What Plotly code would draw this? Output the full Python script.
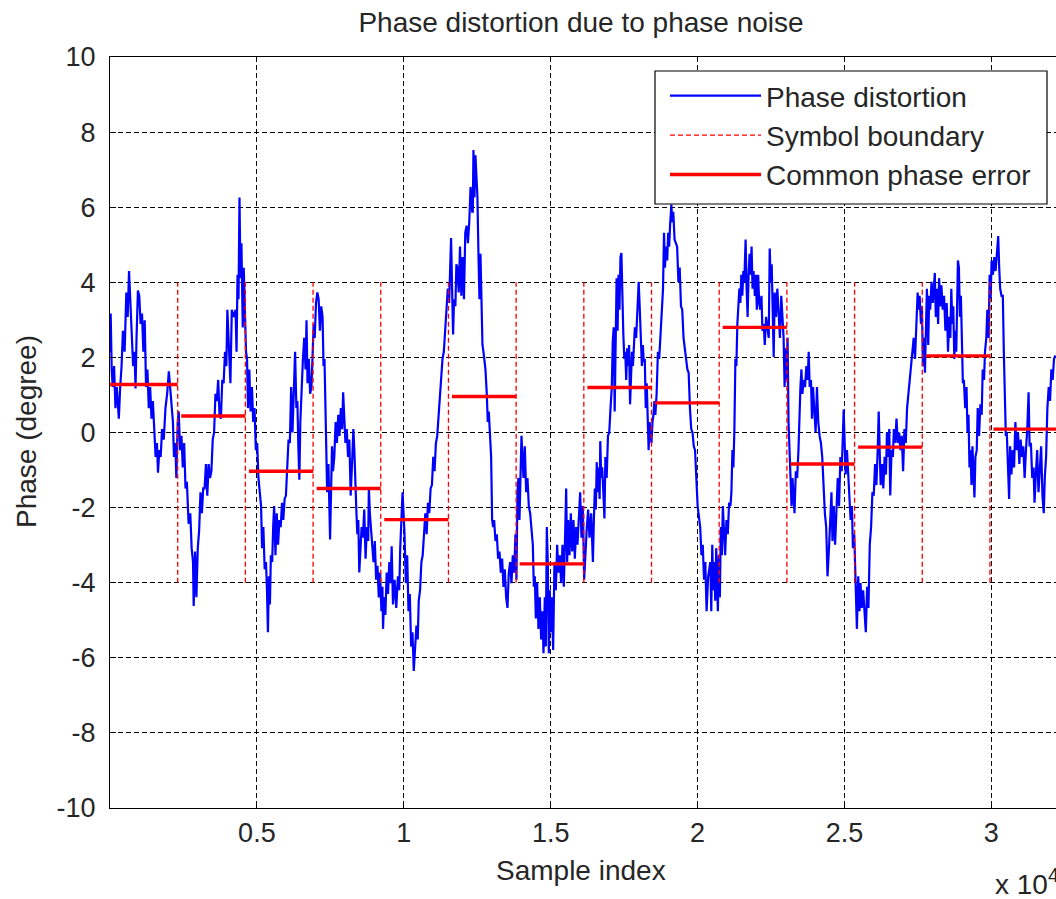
import plotly.graph_objects as go

# ---------------- data ----------------
SYMBOL_LEN = 2304          # samples per OFDM symbol
N_SYMBOLS = 14
cpe_deg = [1.28, 0.44, -1.03, -1.49, -2.32, 0.96, -3.50, 1.20, 0.79, 2.80, -0.84, -0.39, 2.04, 0.09]
boundary_span = [-4, 4]
x_tick_vals = [5000, 10000, 15000, 20000, 25000, 30000]
x_tick_text = ["0.5", "1", "1.5", "2", "2.5", "3"]
y_tick_vals = [-10, -8, -6, -4, -2, 0, 2, 4, 6, 8, 10]
y_tick_text = ["-10", "-8", "-6", "-4", "-2", "0", "2", "4", "6", "8", "10"]

# phase distortion trace, (sample index, degrees)
phase_part1 = [(0,2.15),(23,3.17),(58,1.68),(93,1.21),(139,1.77),(185,0.65),(232,1.21),(301,0.37),(347,1.21),(394,1.77),(440,2.71),(498,2.15),(556,3.73),(602,3.08),(648,4.30),(695,3.36),(741,2.52),(787,1.77),(834,2.15),(869,1.17),(903,2.52),(950,3.78),(996,3.64),(1042,2.89),(1089,3.17),(1135,2.15),(1181,2.99),(1227,1.21),(1274,1.68),(1320,0.65),(1366,1.21),(1413,0.37),(1459,0.84),(1505,0.00),(1552,-0.65),(1598,-0.28),(1633,-1.07),(1679,-0.47),(1725,-0.65),(1772,0.09),(1830,-0.19),(1888,0.65),(1945,1.03),(2003,1.63),(2050,1.21),(2096,0.84),(2142,0.28),(2177,-0.65),(2223,-0.28),(2258,-1.21),(2304,0.28),(2339,0.56),(2385,-0.47),(2432,-0.09),(2478,-0.93),(2524,-0.28),(2571,-1.49),(2617,-1.31),(2675,-2.43),(2733,-2.15),(2779,-3.08),(2826,-3.45),(2849,-4.62),(2895,-3.17),(2941,-4.39),(2988,-3.08),(3034,-2.61),(3080,-1.59),(3127,-2.15),(3173,-1.49),(3219,-1.49),(3266,-0.84),(3312,-1.68),(3358,-0.84),(3405,-1.21),(3451,-1.03),(3497,-0.19),(3543,0.00),(3590,1.03),(3636,0.84),(3682,1.40),(3729,0.47),(3775,0.37),(3821,1.40),(3868,1.31),(3914,2.15),(3960,1.77),(3995,3.27),(4053,2.15),(4099,1.31),(4146,3.27),(4203,3.08)]
phase_part2 = [(4274,3.27),(4307,2.15),(4341,4.20),(4374,3.55),(4408,6.26),(4441,4.11),(4474,5.04),(4519,2.80),(4552,4.39),(4586,3.27),(4630,2.15),(4664,1.96),(4697,0.65),(4742,1.68),(4786,0.56),(4831,1.21),(4875,0.28),(4920,0.65),(4964,-0.47),(5009,-0.28),(5053,-1.21),(5098,-1.59),(5142,-1.96),(5176,-3.08),(5220,-2.52),(5265,-3.64),(5309,-3.45),(5343,-4.20),(5376,-5.32),(5409,-3.83),(5443,-4.58),(5476,-3.27),(5521,-3.45),(5554,-2.52),(5587,-1.96),(5632,-3.27),(5676,-2.15),(5721,-2.99),(5766,-2.33),(5810,-2.52),(5855,-1.87),(5899,-2.33),(5944,-1.77),(5988,-1.68),(6033,-1.03),(6077,-0.19),(6122,-0.28),(6166,1.21),(6211,0.00),(6255,1.03),(6300,2.15),(6344,0.65),(6378,0.84),(6411,-0.37),(6445,-1.26),(6478,0.28),(6522,1.21),(6567,1.96),(6611,2.52),(6656,1.68),(6689,2.99),(6723,1.31),(6767,1.96),(6812,1.03),(6856,1.21),(6901,2.15),(6934,2.89),(6968,2.52),(7012,3.45),(7057,3.73),(7101,3.55),(7146,2.71),(7190,3.36),(7235,3.08),(7268,1.77),(7301,1.96),(7346,0.28),(7391,-1.59),(7435,-0.84),(7469,-1.96),(7491,-2.85),(7524,-1.59),(7557,-0.37),(7591,-1.03),(7635,-0.65),(7680,0.28),(7724,-0.28),(7769,0.47),(7813,-0.09),(7858,0.65),(7902,0.09),(7936,1.07),(7969,0.28),(8014,-0.28),(8058,0.09),(8103,-0.65),(8147,-0.19),(8192,-1.68),(8248,-0.65)]
phase_part3 = [(8283,0.09),(8317,-0.47),(8351,-1.68),(8384,-2.05),(8418,-2.71),(8452,-2.33),(8485,-3.73),(8519,-3.27),(8564,-2.52),(8609,-2.80),(8654,-2.05),(8699,-3.36),(8744,-2.52),(8789,-2.89),(8811,-1.45),(8845,-2.15),(8879,-2.52),(8924,-3.08),(8969,-3.45),(9014,-2.89),(9059,-3.92),(9104,-3.55),(9149,-4.39),(9194,-3.73),(9238,-4.76),(9272,-4.11),(9295,-5.23),(9328,-4.39),(9373,-4.86),(9418,-3.73),(9463,-4.30),(9508,-3.45),(9553,-4.01),(9587,-3.03),(9632,-4.58),(9688,-3.92),(9744,-4.67),(9800,-3.83),(9845,-4.20),(9879,-3.08),(9924,-2.33),(9958,-1.59),(9992,-2.15),(10025,-2.71),(10070,-4.01),(10115,-3.27),(10160,-4.76),(10205,-4.30),(10250,-5.70),(10295,-5.32),(10340,-6.35),(10385,-5.70),(10430,-5.14),(10475,-5.51),(10509,-4.48),(10554,-4.20),(10599,-3.45),(10643,-3.27),(10688,-2.80),(10733,-2.15),(10778,-2.71),(10823,-1.87),(10868,-2.15),(10913,-1.49),(10958,-1.40),(11003,-0.65),(11048,-1.03),(11093,-0.28),(11138,-0.09),(11183,0.47),(11228,0.93),(11273,1.59),(11318,1.96),(11363,2.15),(11408,2.71),(11453,2.99),(11498,3.83),(11543,3.45),(11576,4.20),(11610,5.18),(11644,3.83),(11678,2.61),(11711,3.55),(11756,3.36),(11790,4.48),(11824,4.39),(11869,3.73),(11914,4.95),(11959,3.64),(12004,4.67),(12048,3.55),(12093,5.32),(12138,5.51),(12183,5.04),(12228,5.60),(12273,6.54),(12329,5.88)]
phase_part4 = [(12349,5.88),(12371,7.52),(12405,6.26),(12439,7.38),(12473,6.54),(12507,6.26),(12541,4.76),(12576,3.55),(12610,4.76),(12644,3.45),(12678,2.33),(12712,2.15),(12746,1.96),(12780,1.68),(12825,1.03),(12859,0.28),(12893,0.56),(12939,-0.28),(12973,-0.65),(13007,-2.33),(13041,-2.52),(13075,-2.33),(13120,-2.89),(13166,-2.71),(13211,-3.36),(13257,-3.17),(13302,-3.73),(13347,-3.36),(13393,-4.11),(13438,-3.64),(13484,-4.39),(13529,-4.67),(13574,-3.73),(13620,-3.45),(13665,-4.01),(13711,-3.27),(13756,-3.73),(13801,-2.71),(13835,-3.92),(13869,-1.59),(13903,-1.21),(13938,-2.33),(13972,-0.65),(14006,-0.09),(14040,-0.65),(14074,-1.21),(14119,-0.37),(14165,-1.59),(14210,-1.21),(14255,-1.96),(14301,-2.15),(14346,-2.61),(14392,-2.99),(14426,-4.11),(14460,-3.83),(14494,-4.95),(14539,-4.01),(14584,-5.23),(14630,-4.39),(14675,-5.51),(14721,-4.76),(14755,-5.88),(14800,-4.39),(14834,-5.70),(14868,-2.52),(14902,-3.45),(14936,-5.88),(14970,-4.20),(15004,-5.32),(15038,-4.39),(15084,-5.79),(15129,-3.45),(15175,-4.20),(15220,-2.99),(15265,-3.73),(15311,-3.27),(15356,-4.01),(15402,-2.99),(15447,-4.11),(15492,-2.71),(15527,-1.49),(15561,-3.45),(15595,-2.33),(15640,-3.27),(15685,-2.15),(15731,-3.17),(15776,-2.33),(15822,-3.36),(15867,-2.52),(15912,-2.99),(15958,-2.33),(16003,-1.59),(16049,-2.80),(16094,-1.96),(16139,-3.92),(16185,-2.99),(16230,-2.52),(16276,-2.05),(16321,-2.80),(16378,-2.15)]
phase_part5 = [(16437,-3.45),(16470,-2.33),(16503,-1.49),(16536,-2.05),(16568,-0.79),(16601,-1.59),(16634,-0.93),(16666,-1.77),(16688,-0.23),(16721,-1.21),(16753,-0.93),(16797,-1.68),(16830,-2.29),(16862,-0.65),(16906,-1.21),(16950,-0.09),(16993,0.00),(17037,0.65),(17080,1.21),(17113,2.43),(17146,2.80),(17178,0.56),(17211,3.08),(17244,4.11),(17277,2.71),(17309,4.20),(17342,3.27),(17375,4.67),(17407,4.78),(17440,3.27),(17473,2.61),(17506,1.96),(17538,2.15),(17571,1.40),(17604,2.24),(17636,1.77),(17669,2.33),(17702,0.75),(17734,1.77),(17767,2.15),(17800,1.77),(17833,2.43),(17865,2.80),(17909,2.52),(17942,3.08),(17974,3.27),(17996,4.01),(18029,3.36),(18061,2.52),(18105,1.77),(18138,2.33),(18170,1.87),(18203,1.96),(18236,0.65),(18269,1.31),(18301,0.47),(18334,-0.47),(18367,0.28),(18399,-0.09),(18432,-0.28),(18465,0.28),(18497,0.47),(18530,0.84),(18563,0.47),(18606,1.03),(18650,2.15),(18694,1.96),(18737,2.52),(18781,3.27),(18824,3.83),(18857,5.32),(18890,4.39),(18923,4.95),(18966,4.58),(18999,5.32),(19032,4.95),(19064,5.51),(19108,6.07),(19141,5.60),(19173,5.88),(19217,5.14),(19260,5.04),(19304,4.95),(19348,4.01),(19391,4.39),(19435,3.36),(19478,3.27),(19522,2.52),(19566,2.15),(19609,1.96),(19653,1.68),(19696,1.59),(19740,0.65),(19784,0.09),(19827,0.00),(19871,-0.37),(19914,-0.47),(19958,-1.21),(20002,-1.96),(20045,-2.24),(20089,-2.52),(20132,-3.27),(20176,-2.99),(20220,-3.92),(20263,-3.45),(20307,-4.76),(20361,-3.83)]
phase_part6 = [(20433,-3.45),(20466,-4.76),(20500,-2.99),(20534,-4.20),(20567,-3.45),(20601,-4.48),(20635,-3.08),(20669,-4.01),(20691,-4.76),(20725,-3.27),(20758,-4.39),(20792,-2.52),(20826,-3.27),(20860,-1.96),(20905,-2.80),(20938,-3.27),(20983,-2.33),(21028,-2.71),(21073,-1.87),(21118,-1.96),(21152,-1.59),(21186,-0.47),(21219,-0.93),(21253,0.09),(21287,1.96),(21320,1.77),(21354,2.89),(21388,3.64),(21422,3.83),(21455,3.45),(21489,4.20),(21523,3.64),(21557,4.30),(21590,4.01),(21635,5.14),(21669,3.83),(21703,3.08),(21736,4.20),(21770,4.76),(21804,4.20),(21838,4.95),(21871,3.83),(21905,4.30),(21950,3.64),(21984,4.20),(22017,3.27),(22062,4.20),(22096,3.45),(22130,3.27),(22175,3.64),(22208,2.71),(22253,2.89),(22287,2.33),(22332,3.08),(22377,2.71),(22422,2.52),(22456,4.90),(22489,4.01),(22523,4.48),(22557,2.52),(22591,2.01),(22624,3.73),(22669,3.08),(22714,3.83),(22759,3.27),(22804,2.52),(22849,3.64),(22894,2.89),(22928,2.52),(22962,1.21),(22995,2.24),(23029,1.40),(23063,2.52),(23096,0.28),(23130,-0.47),(23164,-1.12),(23198,-1.96),(23231,-1.21),(23265,-1.87),(23299,-2.15),(23344,-1.03),(23389,-1.21),(23434,-0.47),(23467,0.84),(23501,1.21),(23535,1.68),(23568,1.03),(23613,1.40),(23658,1.21),(23703,1.77),(23748,1.40),(23782,2.15),(23816,1.21),(23860,1.40),(23894,0.37),(23928,1.21),(23973,0.37),(24018,0.00),(24063,1.21),(24108,0.28),(24153,-0.09),(24198,-0.28),(24243,-0.65),(24288,-1.59),(24333,-2.15),(24378,-2.52),(24423,-3.83),(24479,-2.99)]
phase_part7 = [(24557,-1.59),(24591,-2.89),(24636,-1.96),(24681,-2.99),(24726,-2.15),(24771,-1.21),(24816,-1.96),(24861,-0.65),(24906,-1.03),(24939,0.09),(24973,0.61),(25007,-0.28),(25040,-1.12),(25085,-0.47),(25130,-1.21),(25175,-1.59),(25209,-2.33),(25254,-1.96),(25288,-3.08),(25333,-2.71),(25378,-3.92),(25423,-5.23),(25468,-3.83),(25513,-4.76),(25546,-4.01),(25591,-4.67),(25636,-4.20),(25681,-4.95),(25726,-5.32),(25771,-4.11),(25816,-4.67),(25861,-2.99),(25906,-2.52),(25951,-1.59),(25996,-1.68),(26041,-0.84),(26086,-1.40),(26131,-0.47),(26165,0.56),(26198,-0.47),(26232,-1.40),(26277,-0.84),(26322,-1.49),(26367,-0.65),(26412,-1.12),(26446,0.00),(26490,-0.65),(26524,0.09),(26558,-1.68),(26603,-0.47),(26648,-0.65),(26682,0.09),(26727,-0.28),(26771,0.37),(26816,-0.28),(26861,0.00),(26906,-0.47),(26951,-0.09),(26996,-1.03),(27041,0.09),(27086,-0.28),(27131,0.65),(27176,1.03),(27221,1.40),(27266,1.77),(27311,2.15),(27356,2.52),(27401,1.96),(27446,3.08),(27491,3.73),(27525,3.27),(27558,3.64),(27603,2.89),(27637,3.36),(27671,1.77),(27704,2.52),(27738,1.59),(27772,3.08),(27806,3.83),(27851,2.33),(27884,3.64),(27918,3.27),(27963,4.01),(28008,3.45),(28042,3.83),(28075,4.25),(28109,3.08),(28143,3.83),(28188,2.89),(28221,4.11),(28266,3.36),(28300,3.92),(28345,3.27),(28390,3.64),(28435,2.71),(28480,3.45),(28525,2.15),(28570,3.08)]
phase_part8 = [(28603,2.52),(28637,3.83),(28671,2.89),(28704,3.36),(28738,1.96),(28772,2.71),(28805,2.15),(28839,3.36),(28862,4.58),(28895,4.39),(28929,3.08),(28963,3.64),(28997,2.15),(29030,1.31),(29064,1.40),(29109,0.65),(29154,1.21),(29188,0.00),(29221,0.47),(29255,-0.93),(29289,-0.47),(29323,-1.40),(29356,-0.37),(29390,-1.21),(29424,-1.73),(29457,-0.65),(29502,-0.47),(29536,0.65),(29581,-0.09),(29626,0.75),(29671,0.47),(29705,1.68),(29750,1.40),(29783,2.15),(29828,2.52),(29862,3.27),(29907,2.52),(29941,4.20),(29974,3.55),(30008,4.58),(30053,4.20),(30098,4.67),(30143,4.30),(30188,4.76),(30233,5.23),(30267,4.39),(30300,3.83),(30345,3.64),(30390,3.64),(30424,2.15),(30458,1.21),(30492,-0.09),(30525,0.00),(30559,-0.65),(30604,-1.77),(30638,-0.37),(30683,-1.12),(30728,-0.47),(30773,-0.93),(30817,0.28),(30862,-0.47),(30907,0.00),(30952,-0.84),(30997,-0.19),(31042,-0.65),(31087,-0.37),(31132,-1.21),(31177,-0.47),(31222,0.09),(31267,1.07),(31301,-0.37),(31346,-0.28),(31391,-1.21),(31436,-0.93),(31469,-1.87),(31514,-1.12),(31559,-0.47),(31604,-1.59),(31649,-0.84),(31694,-0.37),(31739,-1.68),(31784,-2.15),(31818,-1.21),(31863,-0.65),(31907,0.65),(31952,1.21),(31997,0.84),(32042,1.68),(32087,1.40),(32132,1.96),(32177,2.05)]

# ---------------- build ----------------
phase_points = (phase_part1 + phase_part2 + phase_part3 + phase_part4 +
                phase_part5 + phase_part6 + phase_part7 + phase_part8)
px = [p[0] for p in phase_points]
py = [p[1] for p in phase_points]

bx, by = [], []
for k in range(1, N_SYMBOLS):
    bx += [k * SYMBOL_LEN, k * SYMBOL_LEN, None]
    by += [boundary_span[0], boundary_span[1], None]

cx, cy = [], []
for k, v in enumerate(cpe_deg):
    start = k * SYMBOL_LEN + (1 if k == 0 else 120)
    cx += [start, (k + 1) * SYMBOL_LEN, None]
    cy += [v, v, None]

FONT = "Liberation Sans, Arial, Helvetica, sans-serif"
TXT = "#262626"
FS = 28

fig = go.Figure()
fig.add_trace(go.Scatter(x=px, y=py, mode="lines", name="Phase distortion",
                         line=dict(color="#0000ff", width=2.2)))
fig.add_trace(go.Scatter(x=bx, y=by, mode="lines", name="Symbol boundary",
                         line=dict(color="#ff0000", width=1.3, dash="5px,3px")))
fig.add_trace(go.Scatter(x=cx, y=cy, mode="lines", name="Common phase error",
                         line=dict(color="#ff0000", width=3.4)))

axis_common = dict(
    ticks="inside", ticklen=6, tickcolor="black", tickwidth=1,
    showline=True, linecolor="black", linewidth=1.2,
    showgrid=True, gridcolor="black", gridwidth=1.2, griddash="5px,3px",
    zeroline=False, tickfont=dict(family=FONT, size=FS - 1, color=TXT),
)

fig.update_xaxes(range=[0, 32200], tickmode="array", tickvals=x_tick_vals,
                 ticktext=x_tick_text, mirror=True, **axis_common)
fig.update_yaxes(range=[-10, 10], tickmode="array", tickvals=y_tick_vals,
                 ticktext=y_tick_text, mirror=False, ticklabelstandoff=8, **axis_common)

# legend frame (MATLAB style box)
fig.add_shape(type="rect", xref="paper", yref="paper",
              x0=(655 - 110) / 946, x1=(1047 - 110) / 946,
              y0=(808 - 204) / 751, y1=(808 - 71) / 751,
              fillcolor="white", line=dict(color="black", width=1.2), layer="above")

fig.update_layout(
    width=1056, height=899,
    margin=dict(l=110, r=0, t=57, b=91),
    paper_bgcolor="white", plot_bgcolor="white",
    font=dict(family=FONT, size=FS, color=TXT),
    title=dict(text="Phase distortion due to phase noise", x=581 / 1056, xanchor="center",
               y=1 - 22 / 899, yanchor="middle", font=dict(family=FONT, size=FS, color=TXT)),
    showlegend=True,
    legend=dict(x=(665 - 110) / 946, y=1 - (71 - 57) / 751, xanchor="left", yanchor="top",
                bgcolor="rgba(0,0,0,0)", borderwidth=0,
                itemwidth=91, font=dict(family=FONT, size=FS, color=TXT)),
    annotations=[
        dict(text="Sample index", xref="paper", yref="paper", x=(581 - 110) / 946,
             y=-(870 - 808) / 751, xanchor="center", yanchor="middle", showarrow=False,
             font=dict(family=FONT, size=FS, color=TXT)),
        dict(text="Phase (degree)", xref="paper", yref="paper", x=(27 - 110) / 946,
             y=(808 - 432) / 751, xanchor="center", yanchor="middle", textangle=-90,
             showarrow=False, font=dict(family=FONT, size=FS, color=TXT)),
        dict(text="x 10<sup>4</sup>", xref="paper", yref="paper", x=(993 - 110) / 946,
             y=-(882 - 808) / 751, xanchor="left", yanchor="middle", showarrow=False,
             font=dict(family=FONT, size=FS, color=TXT)),
    ],
)

fig.write_html("out.html", config={"displayModeBar": False},
               post_script="document.body.style.margin='0px';")
